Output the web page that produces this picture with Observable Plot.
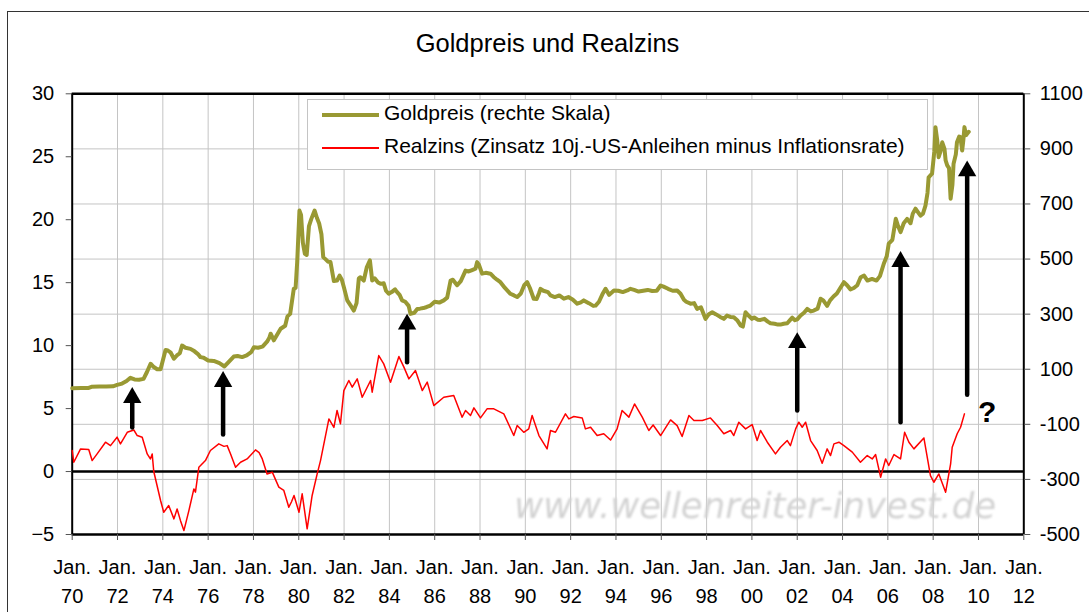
<!DOCTYPE html>
<html>
<head>
<meta charset="utf-8">
<script src="https://cdn.jsdelivr.net/npm/d3@7"></script>
<script src="https://cdn.jsdelivr.net/npm/@observablehq/plot@0.6"></script>
<style>
  html, body { margin: 0; padding: 0; background: #fff; }
  #wrap { position: relative; width: 1089px; height: 612px; overflow: hidden; background: #fff;
          font-family: "Liberation Sans", Arial, sans-serif; color: #000; }
  #title { position: absolute; left: 3px; top: 28px; width: 1089px; text-align: center;
           font-size: 25.5px; line-height: 30px; }
  #chart { position: absolute; left: 0; top: 70px; }
  #legend { position: absolute; left: 307px; top: 99px; width: 619px; height: 69px;
            border: 1px solid #c4c4c4; background: #fff; }
  #legend .sw { position: absolute; left: 14px; width: 57px; }
  #legend .lt { position: absolute; left: 76px; font-size: 21px; line-height: 24px; white-space: nowrap; }
  #frame { position: absolute; left: 7px; top: 11px; width: 1200px; height: 800px;
           border: 1px solid #333; pointer-events: none; }
</style>
</head>
<body>
<div id="wrap">
  <div id="title"></div>
  <div id="chart"></div>
  <div id="legend"></div>
  <div id="frame"></div>
</div>
<script>
// ---------- data ----------
const titleText = "Goldpreis und Realzins";
const legendGold = "Goldpreis (rechte Skala)";
const legendReal = "Realzins (Zinsatz 10j.-US-Anleihen minus Inflationsrate)";
const watermarkText = "www.wellenreiter-invest.de";

// Gold price (USD, right scale), decimal year
const goldYear = [1970.0,1970.4,1970.73,1970.85,1971.2,1971.5,1971.8,1971.98,1972.2,1972.4,1972.57,1972.75,1972.95,1973.15,1973.3,1973.46,1973.6,1973.75,1973.9,1974.12,1974.22,1974.35,1974.49,1974.62,1974.75,1974.85,1975.0,1975.22,1975.4,1975.55,1975.66,1975.8,1976.0,1976.25,1976.5,1976.72,1976.9,1977.13,1977.3,1977.5,1977.7,1977.9,1978.02,1978.2,1978.4,1978.6,1978.7,1978.76,1978.9,1979.05,1979.2,1979.4,1979.5,1979.62,1979.78,1979.86,1979.93,1980.03,1980.1,1980.18,1980.27,1980.35,1980.45,1980.55,1980.7,1980.8,1980.9,1981.0,1981.08,1981.2,1981.3,1981.4,1981.55,1981.69,1981.8,1981.9,1982.0,1982.14,1982.3,1982.43,1982.55,1982.65,1982.72,1982.87,1983.0,1983.14,1983.24,1983.35,1983.5,1983.61,1983.75,1983.85,1983.97,1984.1,1984.25,1984.34,1984.45,1984.56,1984.7,1984.85,1984.93,1985.1,1985.23,1985.35,1985.5,1985.65,1985.81,1986.0,1986.2,1986.4,1986.55,1986.7,1986.8,1986.99,1987.15,1987.36,1987.5,1987.65,1987.8,1987.87,1987.95,1988.09,1988.25,1988.46,1988.6,1988.75,1988.9,1989.1,1989.34,1989.5,1989.64,1989.8,1989.95,1990.08,1990.2,1990.37,1990.5,1990.6,1990.67,1990.8,1991.0,1991.11,1991.3,1991.5,1991.7,1991.9,1992.1,1992.29,1992.45,1992.58,1992.8,1993.0,1993.1,1993.25,1993.4,1993.54,1993.7,1993.91,1994.1,1994.3,1994.5,1994.64,1994.8,1995.0,1995.2,1995.4,1995.6,1995.8,1995.97,1996.1,1996.3,1996.5,1996.7,1996.85,1997.0,1997.1,1997.29,1997.45,1997.58,1997.75,1997.95,1998.1,1998.25,1998.4,1998.6,1998.76,1998.9,1999.05,1999.2,1999.35,1999.5,1999.6,1999.72,1999.85,2000.0,2000.1,2000.25,2000.38,2000.55,2000.7,2000.82,2001.0,2001.15,2001.26,2001.4,2001.56,2001.7,2001.78,2001.9,2002.0,2002.15,2002.3,2002.44,2002.6,2002.73,2002.9,2003.03,2003.15,2003.32,2003.45,2003.6,2003.75,2003.9,2004.06,2004.2,2004.35,2004.5,2004.65,2004.8,2004.95,2005.1,2005.3,2005.5,2005.65,2005.82,2005.95,2006.04,2006.2,2006.35,2006.45,2006.56,2006.7,2006.85,2007.0,2007.1,2007.22,2007.35,2007.44,2007.55,2007.66,2007.75,2007.8,2007.95,2008.05,2008.1,2008.18,2008.24,2008.32,2008.4,2008.5,2008.55,2008.62,2008.7,2008.77,2008.85,2008.9,2009.0,2009.05,2009.15,2009.2,2009.28,2009.33,2009.38,2009.45,2009.5,2009.57];
const goldPrice = [31,32,32,36,37,37,38,43,48,57,69,63,62,65,90,120,108,100,100,170,168,160,138,150,158,186,178,174,165,155,144,142,132,130,122,110,126,146,148,144,150,162,180,178,182,200,214,229,205,226,247,258,292,301,392,395,489,676,660,560,519,515,620,645,676,650,629,590,507,498,490,489,420,422,440,425,395,350,330,313,340,430,434,422,470,495,422,430,415,410,412,385,374,380,390,380,370,350,345,330,301,305,319,320,322,326,331,345,342,350,360,422,425,405,420,458,455,460,465,489,480,447,450,447,435,425,416,395,374,368,362,375,405,416,395,356,355,375,392,385,380,368,362,368,356,362,352,338,343,350,340,330,331,345,372,392,370,386,385,380,386,392,388,382,385,388,384,385,404,400,392,385,386,374,352,345,338,340,319,325,283,300,307,300,290,283,295,290,289,278,259,255,307,295,283,288,280,279,283,273,267,265,262,262,265,267,280,287,278,281,295,305,319,310,313,320,356,350,330,350,364,375,395,416,405,390,395,405,434,440,422,428,422,438,483,510,556,570,646,620,598,630,646,630,665,683,668,658,665,694,740,797,810,890,979,930,870,890,924,900,858,840,830,719,770,846,880,924,945,943,894,930,979,950,955,962];

// Real interest rate (%, left scale), decimal year
const realYear = [1970.0,1970.07,1970.37,1970.73,1970.88,1971.1,1971.47,1971.69,1971.98,1972.13,1972.43,1972.72,1972.87,1973.09,1973.31,1973.45,1973.53,1973.6,1973.9,1974.04,1974.26,1974.49,1974.63,1974.78,1974.93,1975.15,1975.37,1975.44,1975.59,1975.88,1976.1,1976.47,1976.7,1976.84,1976.99,1977.21,1977.43,1977.72,1978.09,1978.25,1978.39,1978.6,1978.83,1979.12,1979.34,1979.56,1979.68,1979.79,1980.01,1980.15,1980.37,1980.59,1980.81,1980.96,1981.33,1981.55,1981.69,1981.84,1981.99,1982.21,1982.36,1982.58,1982.8,1983.17,1983.24,1983.53,1983.75,1984.05,1984.42,1984.64,1984.86,1985.15,1985.45,1985.67,1985.96,1986.4,1986.84,1987.21,1987.36,1987.58,1987.73,1988.02,1988.31,1988.61,1989.05,1989.49,1989.64,1989.93,1990.15,1990.3,1990.6,1990.96,1991.11,1991.33,1991.77,1991.92,1992.14,1992.51,1992.65,1992.88,1993.17,1993.46,1993.76,1994.05,1994.27,1994.57,1994.82,1995.16,1995.45,1995.64,1995.97,1996.41,1996.7,1996.92,1997.22,1997.44,1997.81,1998.17,1998.47,1998.76,1999.06,1999.2,1999.42,1999.72,2000.01,2000.23,2000.38,2000.68,2001.04,2001.26,2001.56,2001.7,2001.93,2002.07,2002.22,2002.37,2002.59,2002.88,2003.1,2003.32,2003.47,2003.62,2003.84,2004.06,2004.43,2004.79,2005.09,2005.31,2005.46,2005.68,2005.9,2006.04,2006.27,2006.56,2006.74,2006.93,2007.15,2007.59,2007.88,2008.03,2008.25,2008.55,2008.77,2008.84,2009.06,2009.21,2009.38];
const realRate = [1.67,0.74,1.8,1.75,0.87,1.4,2.33,2.06,2.73,2.2,3.12,3.3,2.86,2.73,1.4,1.0,1.4,0.0,-2.3,-3.23,-2.7,-3.76,-2.97,-3.9,-4.69,-3.1,-1.38,-1.64,0.34,0.87,1.67,2.2,2.0,2.06,1.4,0.34,0.74,1.0,1.72,1.5,1.0,-0.19,-0.05,-1.24,-1.5,-2.83,-2.4,-1.9,-3.23,-1.77,-4.55,-1.9,-0.2,0.87,4.18,3.5,4.85,3.8,6.43,7.23,6.7,7.36,5.9,7.23,6.3,9.21,8.55,7.1,9.13,8.29,7.36,8.02,6.43,7.1,5.24,5.9,6.04,4.32,4.85,4.45,5.06,4.26,4.98,4.98,4.58,2.86,3.65,3.12,3.39,4.45,2.86,1.8,3.26,3.12,4.58,4.18,4.37,4.26,3.39,3.52,2.86,3.0,2.5,3.39,4.85,4.32,5.37,4.32,3.26,3.7,2.86,4.1,3.65,2.78,4.45,4.05,4.05,4.26,3.65,3.0,3.26,2.86,3.92,3.39,3.73,2.46,3.26,2.33,1.4,1.93,2.46,2.06,3.39,3.92,3.52,3.92,2.46,1.67,0.66,1.8,1.27,2.2,2.33,2.06,1.54,0.74,1.27,1.0,1.35,-0.45,1.0,0.48,1.35,1.0,3.12,2.33,1.8,2.67,-0.32,-0.85,-0.19,-1.64,0.6,1.93,3.0,3.52,4.58];

// Annotation arrows (x in decimal years, y in left-scale units)
const arrowX    = [1972.65, 1976.66, 1984.78, 2002.0, 2006.56, 2009.5];
const arrowFrom = [3.5, 2.94, 8.68, 4.85, 3.92, 6.1];
const arrowTip  = [6.7, 7.97, 12.53, 11.06, 17.5, 24.7];
const questionMark = [{x: 2010.38, y: 4.7, label: "?"}];
const watermark = [{x: 2000.14, y: -2.76, label: watermarkText}];

// Axes
const leftTicks = [-5, 0, 5, 10, 15, 20, 25, 30];
const rightTicks = [-500, -300, -100, 100, 300, 500, 700, 900, 1100];
const xTickYears = [1970,1972,1974,1976,1978,1980,1982,1984,1986,1988,1990,1992,1994,1996,1998,2000,2002,2004,2006,2008,2010,2012];
const xTickLine1 = "Jan.";

// ---------- helpers ----------
const toLeft = r => -5 + (r + 500) * 35 / 1600;
const toRight = l => Math.round((l + 5) * 1600 / 35 - 500);

const gold = goldYear.map((x, i) => ({x, y: toLeft(goldPrice[i])}));
const real = realYear.map((x, i) => ({x, y: realRate[i]}));
const arrows = arrowX.map((x, i) => ({x, y1: arrowFrom[i], y2: arrowTip[i]}));

const GOLD = "#999933", RED = "#ff0000";
const font = "'Liberation Sans', Arial, sans-serif";

const chart = Plot.plot({
  width: 1089, height: 542,
  marginTop: 23.3, marginBottom: 78, marginLeft: 71.7, marginRight: 65.7,
  style: {background: "transparent", fontFamily: font, color: "#000", overflow: "visible"},
  x: {domain: [1970, 2012], axis: null},
  y: {domain: [-5, 30], axis: null},
  marks: [
    Plot.gridX(xTickYears.slice(1, -1), {stroke: "#c4c4c4", strokeOpacity: 1}),
    Plot.gridY(rightTicks.slice(1, -1).map(toLeft), {stroke: "#c4c4c4", strokeOpacity: 1}),
    Plot.text(watermark, {x: "x", y: "y", text: "label", fontSize: 35.5, fontFamily: "'DejaVu Sans', Verdana, sans-serif",
      fontStyle: "italic", fill: "#d2d2d2", textAnchor: "middle"}),
    Plot.ruleY([0], {stroke: "#000", strokeWidth: 2.5}),
    Plot.ruleY([-5, 30], {stroke: "#000", strokeWidth: 2.5}),
    Plot.ruleX([1970, 2012], {stroke: "#000", strokeWidth: 2}),
    Plot.line(real, {x: "x", y: "y", stroke: RED, strokeWidth: 1.5}),
    Plot.line(gold, {x: "x", y: "y", stroke: GOLD, strokeWidth: 4}),
    Plot.arrow(arrows, {x1: "x", x2: "x", y1: "y1", y2: "y2", stroke: "#000", strokeWidth: 4.5,
      headLength: 0, insetEnd: 12}),
    Plot.dot(arrows, {x: "x", y: "y2", symbol: "triangle", r: 6.8, fill: "#000", stroke: "none", dy: 10.5}),
    Plot.text(questionMark, {x: "x", y: "y", text: "label", fontSize: 30, fontWeight: "bold", fill: "#000"}),
    Plot.axisY(leftTicks, {anchor: "left", tickSize: 6, tickPadding: 12, fontSize: 20, stroke: "#555", label: null}),
    Plot.axisY(rightTicks.map(toLeft), {anchor: "right", tickSize: 6, tickPadding: 10, fontSize: 20, stroke: "#555",
      tickFormat: d => String(toRight(d)), label: null}),
    Plot.axisX(xTickYears, {anchor: "bottom", tickSize: 6, tickPadding: 19, fontSize: 20, stroke: "#555",
      tickFormat: () => xTickLine1, label: null}),
    Plot.axisX(xTickYears, {anchor: "bottom", tickSize: 0, tickPadding: 54, fontSize: 20,
      tickFormat: d => String(d % 100).padStart(2, "0"), label: null})
  ]
});

// soften the watermark like the original
d3.select(chart).selectAll("text").filter(function() { return this.textContent === watermarkText; })
  .style("filter", "blur(0.8px)");

document.getElementById("chart").appendChild(chart);
document.getElementById("title").textContent = titleText;

const legend = document.getElementById("legend");
legend.innerHTML =
  `<div class="sw" style="top:13px;height:4px;background:${GOLD}"></div>` +
  `<div class="lt" style="top:1px">${legendGold}</div>` +
  `<div class="sw" style="top:47px;height:2px;background:${RED}"></div>` +
  `<div class="lt" style="top:34px">${legendReal}</div>`;
</script>
</body>
</html>
